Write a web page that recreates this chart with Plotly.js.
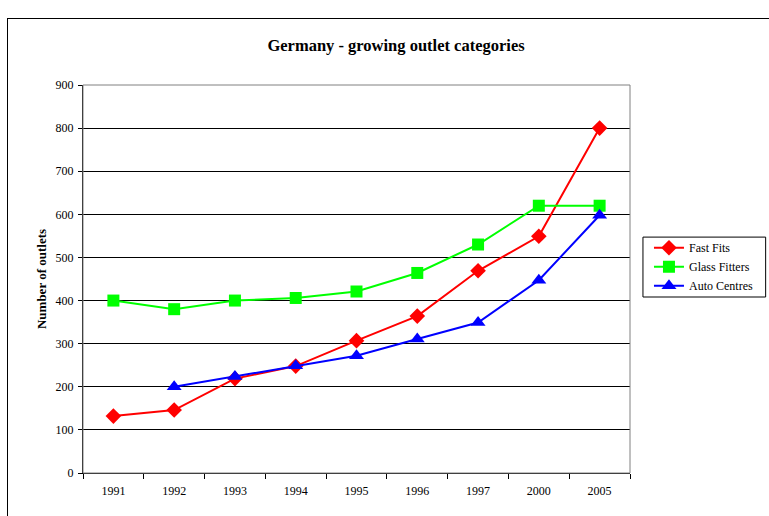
<!DOCTYPE html>
<html>
<head>
<meta charset="utf-8">
<script src="https://cdn.plot.ly/plotly-3.0.1.min.js"></script>
<style>
  body { margin: 0; background: #fff; }
  #frame { position: absolute; left: 7px; top: 18px; width: 800px; height: 600px;
           border-left: 1.5px solid #000; border-top: 1.5px solid #000; }
  #chart { position: absolute; left: 0; top: 0; width: 769px; height: 516px; }
</style>
</head>
<body>
<div id="frame"></div>
<div id="chart"></div>
<script>
// years on the category axis
const years = ["1991", "1992", "1993", "1994", "1995", "1996", "1997", "2000", "2005"];

// values
const fastFits = [132, 146, 219, 248, 307, 364, 469, 549, 800];
const glassFitters = [400, 380, 400, 406, 421, 464, 530, 620, 620];
const autoCentres = [null, 200, 224, 249, 272, 311, 349, 447, 598];

const serif = "Liberation Serif, Times New Roman, serif";

const traces = [
    { x: years, y: fastFits, name: "Fast Fits", mode: "lines+markers",
      line: { color: "#ff0000", width: 2 }, marker: { symbol: "diamond", size: 12, color: "#ff0000" } },
    { x: years, y: glassFitters, name: "Glass Fitters", mode: "lines+markers",
      line: { color: "#00ff00", width: 2 }, marker: { symbol: "square", size: 12, color: "#00ff00" } },
    { x: years, y: autoCentres, name: "Auto Centres", mode: "lines+markers",
      line: { color: "#0000ff", width: 2 }, marker: { symbol: "triangle-up", size: 13, color: "#0000ff" } }
];

const layout = {
    width: 769, height: 516,
    margin: { l: 83, r: 138, t: 85, b: 43 },
    paper_bgcolor: "rgba(0,0,0,0)",
    plot_bgcolor: "#fff",
    font: { family: serif, size: 12, color: "#000" },
    title: { text: "<b>Germany - growing outlet categories</b>", font: { family: serif, size: 16.5, color: "#000" },
             x: 0.515, xanchor: "center", y: 0.913, yanchor: "middle" },
    xaxis: {
        type: "category", tickson: "boundaries", ticks: "outside", ticklen: 5, tickcolor: "#000",
        showline: true, linecolor: "#000", linewidth: 1, showgrid: false, zeroline: false,
        range: [-0.5, 8.5], tickfont: { family: serif, size: 12 }, ticklabelstandoff: 7
    },
    yaxis: {
        range: [0, 900], dtick: 100, ticks: "outside", ticklen: 4, tickcolor: "#000",
        showline: true, linecolor: "#000", linewidth: 1,
        showgrid: true, gridcolor: "#000", gridwidth: 1, zeroline: false,
        tickfont: { family: serif, size: 12 }, ticklabelstandoff: 2,
        title: { text: "<b>Number of outlets</b>", font: { family: serif, size: 13 }, standoff: 6 }
    },
    legend: {
        x: 1.0328, xanchor: "left", y: 0.618, yanchor: "top",
        borderwidth: 0, bgcolor: "rgba(0,0,0,0)",
        font: { family: serif, size: 12 }, tracegroupgap: 0
    },
    shapes: [
        // plot area border
        { type: "rect", xref: "paper", yref: "paper", x0: 0, x1: 1, y0: 0, y1: 1,
          line: { color: "#808080", width: 1 } },
        // legend box (wider than plotly's own)
        { type: "rect", xref: "paper", yref: "paper", x0: 1.0237, x1: 1.248, y0: 0.4536, y1: 0.608,
          line: { color: "#000", width: 1 }, fillcolor: "#fff", layer: "below" }
    ]
};

Plotly.newPlot("chart", traces, layout, { displayModeBar: false, staticPlot: true });
</script>
</body>
</html>
